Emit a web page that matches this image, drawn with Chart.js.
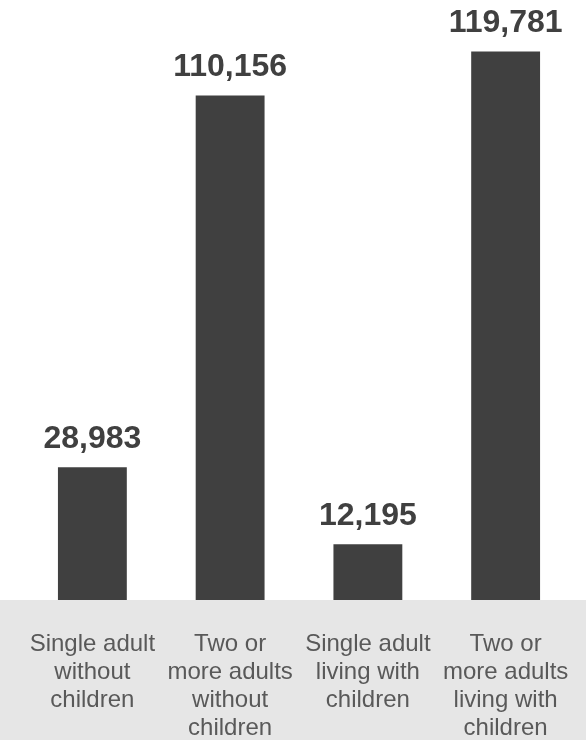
<!DOCTYPE html>
<html>
<head>
<meta charset="utf-8">
<script src="https://cdn.jsdelivr.net/npm/chart.js@4"></script>
<style>
html,body{margin:0;padding:0;background:#fff;}
#wrap{width:586px;height:740px;position:relative;}
</style>
</head>
<body>
<div id="wrap"><canvas id="c" width="586" height="740"></canvas></div>
<script>
const categories = [
  ["Single adult", "without", "children"],
  ["Two or", "more adults", "without", "children"],
  ["Single adult", "living with", "children"],
  ["Two or", "more adults", "living with", "children"]
];
const households = [28983, 110156, 12195, 119781];

const FONT = "Arial, 'Liberation Sans', sans-serif";

const bandPlugin = {
  id: 'band',
  beforeDraw(chart) {
    const {ctx, chartArea, width, height} = chart;
    ctx.save();
    ctx.fillStyle = '#ffffff';
    ctx.fillRect(0, 0, width, height);
    ctx.fillStyle = '#e6e6e6';
    ctx.fillRect(0, chartArea.bottom, width, height - chartArea.bottom);
    ctx.restore();
  }
};

const valueLabels = {
  id: 'valueLabels',
  afterDatasetsDraw(chart) {
    const {ctx} = chart;
    const meta = chart.getDatasetMeta(0);
    ctx.save();
    ctx.fillStyle = '#404040';
    ctx.font = 'bold 32px ' + FONT;
    ctx.textAlign = 'center';
    ctx.textBaseline = 'alphabetic';
    meta.data.forEach((bar, i) => {
      ctx.fillText(households[i].toLocaleString('en-US'), bar.x, bar.y - 19);
    });
    ctx.restore();
  }
};

new Chart(document.getElementById('c'), {
  type: 'bar',
  data: {
    labels: categories,
    datasets: [{
      data: households,
      backgroundColor: '#404040',
      borderWidth: 0,
      categoryPercentage: 1,
      barPercentage: 0.5
    }]
  },
  options: {
    responsive: false,
    animation: false,
    devicePixelRatio: 1,
    layout: { padding: { left: 23.5, right: 11.5, top: 0, bottom: 0 } },
    plugins: { legend: { display: false }, tooltip: { enabled: false } },
    scales: {
      x: {
        grid: { display: false, drawTicks: false },
        border: { display: false },
        ticks: {
          color: '#595959',
          font: { family: FONT, size: 24, lineHeight: 1.17 },
          padding: 30,
          maxRotation: 0,
          autoSkip: false
        },
        afterFit(scale) {
          scale.height = 140;
          scale.paddingLeft = 0;
          scale.paddingRight = 0;
        }
      },
      y: {
        display: false,
        min: 0,
        max: 131000
      }
    }
  },
  plugins: [bandPlugin, valueLabels]
});
</script>
</body>
</html>
